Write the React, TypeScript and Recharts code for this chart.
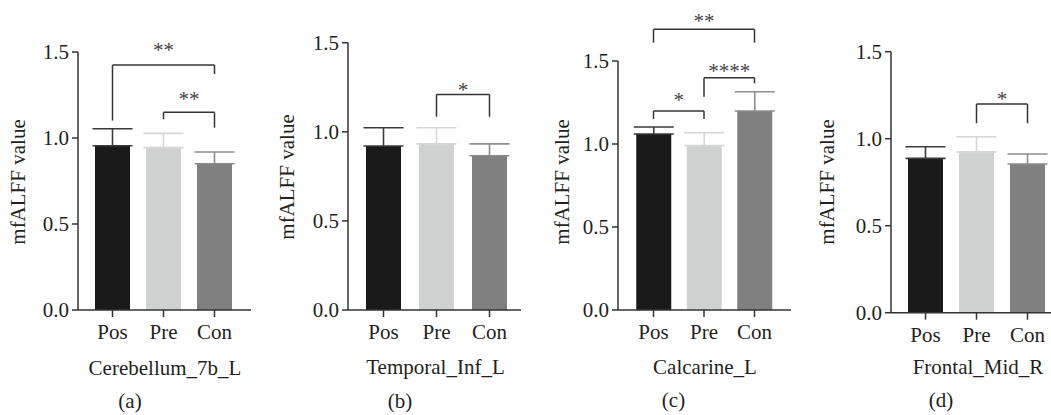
import React from 'react';
import { BarChart, Bar, Cell, XAxis, YAxis, ErrorBar, ReferenceLine, Label } from 'recharts';

const groups = ['Pos', 'Pre', 'Con'];
const regions = ['Cerebellum_7b_L', 'Temporal_Inf_L', 'Calcarine_L', 'Frontal_Mid_R'];
const panelTags = ['(a)', '(b)', '(c)', '(d)'];
const yTicks = [0, 0.5, 1.0, 1.5];
const yLabel = 'mfALFF value';

const meansA = [0.955, 0.944, 0.85];
const errsA = [0.099, 0.083, 0.069];
const meansB = [0.92, 0.932, 0.866];
const errsB = [0.103, 0.091, 0.066];
const meansC = [1.06, 0.99, 1.199];
const errsC = [0.042, 0.078, 0.116];
const meansD = [0.887, 0.924, 0.855];
const errsD = [0.067, 0.087, 0.057];

const bracketsA = [
  { from: 'Pos', to: 'Con', top: 1.424, leftEnd: 1.101, rightEnd: 1.372, stars: '**' },
  { from: 'Pre', to: 'Con', top: 1.149, leftEnd: 1.109, rightEnd: 1.06, stars: '**' },
];
const bracketsB = [
  { from: 'Pre', to: 'Con', top: 1.21, leftEnd: 1.085, rightEnd: 1.085, stars: '*' },
];
const bracketsC = [
  { from: 'Pos', to: 'Pre', top: 1.199, leftEnd: 1.151, rightEnd: 1.151, stars: '*' },
  { from: 'Pre', to: 'Con', top: 1.399, leftEnd: 1.285, rightEnd: 1.366, stars: '****' },
  { from: 'Pos', to: 'Con', top: 1.691, leftEnd: 1.61, rightEnd: 1.61, stars: '**' },
];
const bracketsD = [
  { from: 'Pre', to: 'Con', top: 1.199, leftEnd: 1.089, rightEnd: 1.089, stars: '*' },
];

const barColors = ['#1a1a1a', '#d0d2d2', '#808080'];
const errColors = ['#3a3a3a', '#d6d6d6', '#8c8c8c'];
const errKeys = ['ePos', 'ePre', 'eCon'];

const FONT = "'Liberation Serif', 'Times New Roman', serif";
const FS = 21;
const INK = '#231f20';
const AXIS = '#333333';

// layout (page pixels)
const layouts = [
  { left: 0, width: 260, axisX: 78, axisEnd: 251, top: 52, y0: 310, padL: 9, padR: 11,
    yLab: [18, 182], xLab: [165, 368], tag: [130, 403], starAbove: [18, 16] },
  { left: 260, width: 270, axisX: 348, axisEnd: 521, top: 42.7, y0: 310, padL: 9, padR: 5,
    yLab: [287, 177], xLab: [435.5, 367], tag: [400, 403], starAbove: [7] },
  { left: 520, width: 275, axisX: 618, axisEnd: 791, top: 61, y0: 310, padL: 10.25, padR: 11.25,
    yLab: [562, 182], xLab: [705, 367], tag: [673.5, 402], starAbove: [14, 9.4, 11] },
  { left: 780, width: 275, axisX: 891, axisEnd: 1053, top: 51.7, y0: 312.7, padL: 9, padR: 0,
    yLab: [827, 182], xLab: [978, 367], tag: [941, 402], starAbove: [8] },
];

const panelMeans = [meansA, meansB, meansC, meansD];
const panelErrs = [errsA, errsB, errsC, errsD];
const panelBrackets = [bracketsA, bracketsB, bracketsC, bracketsD];

function StarLabel(props: any) {
  const vb = props.viewBox;
  if (!vb) return null;
  const cx = vb.x + vb.width / 2;
  const y = vb.y - props.above + 0.48 * FS;
  return (
    <text x={cx} y={y} textAnchor="middle" fontSize={FS} fontFamily={FONT} fill="#444">
      {props.stars}
    </text>
  );
}

function Panel({ idx }: { idx: number }) {
  const cfg = layouts[idx];
  const means = panelMeans[idx];
  const errs = panelErrs[idx];
  const brackets = panelBrackets[idx];
  const data = groups.map((g, i) => {
    const row: any = { group: g, mean: means[i] };
    row[errKeys[i]] = [0, errs[i]];
    return row;
  });
  const rel = (p: number[]) => [p[0] - cfg.left, p[1]];
  const yl = rel(cfg.yLab);
  const xl = rel(cfg.xLab);
  const tg = rel(cfg.tag);
  const lineStyle = { stroke: AXIS, strokeWidth: 1.5 };
  return (
    <div style={{ position: 'absolute', left: cfg.left, top: 0 }}>
      <BarChart
        width={cfg.width}
        height={415}
        data={data}
        margin={{ top: cfg.top, right: cfg.left + cfg.width - cfg.axisEnd, bottom: 0, left: 0 }}
        barCategoryGap={0}
      >
        <XAxis
          dataKey="group"
          height={415 - cfg.y0}
          padding={{ left: cfg.padL, right: cfg.padR }}
          tickSize={7}
          tickMargin={7}
          interval={0}
          axisLine={lineStyle}
          tickLine={lineStyle}
          tick={{ fontSize: FS, fill: INK, fontFamily: FONT }}
        >
          <Label
            content={() => (
              <g>
                <text x={xl[0]} y={xl[1] + 7} textAnchor="middle" fontSize={FS} fontFamily={FONT} fill={INK}>
                  {regions[idx]}
                </text>
                <text x={tg[0]} y={tg[1] + 5} textAnchor="middle" fontSize={FS} fontFamily={FONT} fill={INK}>
                  {panelTags[idx]}
                </text>
              </g>
            )}
          />
        </XAxis>
        <YAxis
          domain={[0, 1.5]}
          ticks={yTicks}
          width={cfg.axisX - cfg.left}
          tickSize={6}
          tickMargin={3}
          allowDataOverflow
          tickFormatter={(v: number) => v.toFixed(1)}
          axisLine={lineStyle}
          tickLine={lineStyle}
          tick={{ fontSize: FS, fill: INK, fontFamily: FONT }}
        >
          <Label
            content={() => (
              <text
                x={yl[0]}
                y={yl[1]}
                transform={`rotate(-90, ${yl[0]}, ${yl[1]})`}
                textAnchor="middle"
                dominantBaseline="central"
                fontSize={FS}
                fontFamily={FONT}
                fill={INK}
              >
                {yLabel}
              </text>
            )}
          />
        </YAxis>
        <Bar dataKey="mean" barSize={35} isAnimationActive={false}>
          {groups.map((g, i) => (
            <Cell key={g} fill={barColors[i]} />
          ))}
          {errKeys.map((k, i) => (
            <ErrorBar
              key={k}
              dataKey={k}
              direction="y"
              width={20}
              stroke={errColors[i]}
              strokeWidth={1.6}
              isAnimationActive={false}
            />
          ))}
        </Bar>
        {brackets.map((b, j) => [
          <ReferenceLine
            key={`h${j}`}
            segment={[{ x: b.from, y: b.top }, { x: b.to, y: b.top }]}
            stroke="#333"
            strokeWidth={1.5}
            ifOverflow="visible"
            label={<StarLabel stars={b.stars} above={cfg.starAbove[j]} />}
          />,
          <ReferenceLine
            key={`l${j}`}
            segment={[{ x: b.from, y: b.top }, { x: b.from, y: b.leftEnd }]}
            stroke="#333"
            strokeWidth={1.5}
            ifOverflow="visible"
          />,
          <ReferenceLine
            key={`r${j}`}
            segment={[{ x: b.to, y: b.top }, { x: b.to, y: b.rightEnd }]}
            stroke="#333"
            strokeWidth={1.5}
            ifOverflow="visible"
          />,
        ])}
      </BarChart>
    </div>
  );
}

export default function App() {
  return (
    <div
      style={{
        position: 'absolute',
        left: 0,
        top: 0,
        width: 1051,
        height: 415,
        overflow: 'hidden',
        background: '#fff',
      }}
    >
      {layouts.map((_, i) => (
        <Panel key={i} idx={i} />
      ))}
    </div>
  );
}
